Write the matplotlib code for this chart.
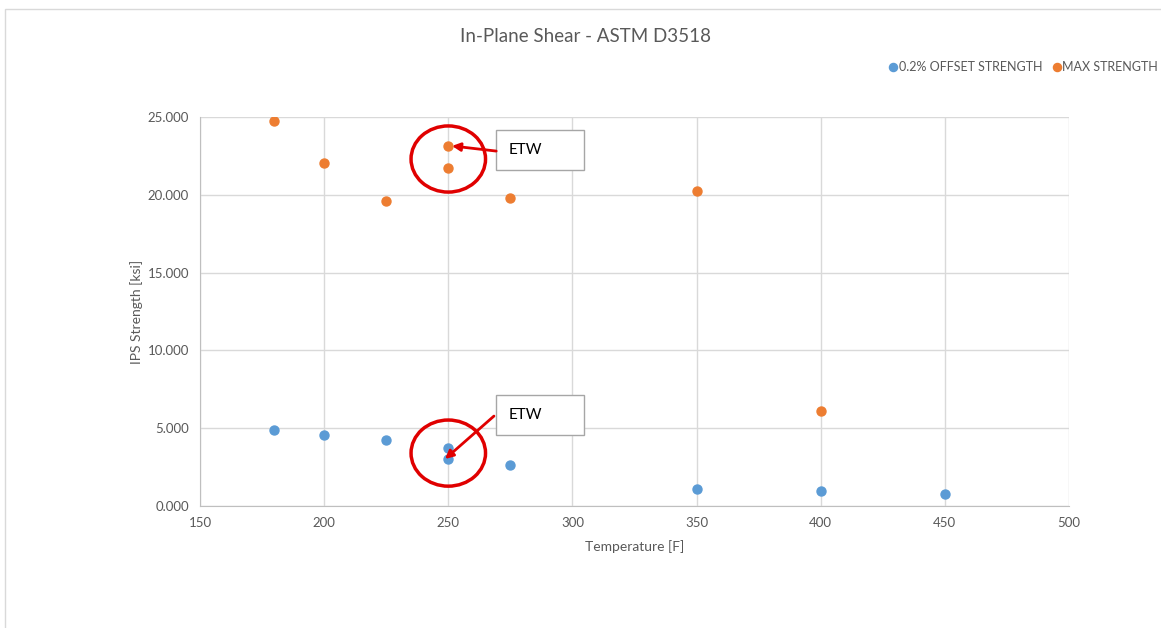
import matplotlib
matplotlib.use("Agg")
import matplotlib.pyplot as plt
from matplotlib.patches import Ellipse, Rectangle

plt.rcParams['font.family'] = ['Lato', 'DejaVu Sans']

# data
temp_offset = [180, 200, 225, 250, 250, 275, 350, 400, 450]
offset_strength = [4.88, 4.56, 4.24, 3.73, 3.02, 2.63, 1.09, 0.96, 0.77]
temp_max = [180, 200, 225, 250, 250, 275, 350, 400]
max_strength = [24.74, 22.04, 19.60, 23.14, 21.72, 19.79, 20.24, 6.10]
x_ticks = [150, 200, 250, 300, 350, 400, 450, 500]
y_ticks = [0, 5, 10, 15, 20, 25]

blue = '#5b9bd5'
orange = '#ed7d31'
gray = '#595959'

fig = plt.figure(figsize=(11.61, 6.28), dpi=100)
# chart frame
fig.patches.append(Rectangle((5 / 1161, -0.1), 1.2, 1 - 9 / 628 + 0.1,
                             transform=fig.transFigure, fill=False,
                             edgecolor='#d9d9d9', linewidth=1))

ax = fig.add_axes([200 / 1161, 1 - 506 / 628, 869 / 1161, 389 / 628])
ax.scatter(temp_offset, offset_strength, s=42, color=blue, zorder=3,
           label='0.2% OFFSET STRENGTH')
ax.scatter(temp_max, max_strength, s=42, color=orange, zorder=3,
           label='MAX STRENGTH')

ax.set_xlim(150, 500)
ax.set_ylim(0, 25)
ax.set_xticks(x_ticks)
ax.set_yticks(y_ticks)
ax.set_yticklabels(['%.3f' % v for v in y_ticks])
ax.grid(True, color='#d9d9d9', linewidth=1)
ax.set_axisbelow(True)
for s in ['top', 'right']:
    ax.spines[s].set_visible(False)
for s in ['left', 'bottom']:
    ax.spines[s].set_color('#bfbfbf')
ax.tick_params(length=0, labelsize=9.5, colors=gray, pad=8)

ax.set_xlabel('Temperature [F]', fontsize=10, color=gray, labelpad=8)
ax.set_ylabel('IPS Strength [ksi]', fontsize=10, color=gray, labelpad=3)
fig.text(585 / 1161, 1 - 36 / 628, 'In-Plane Shear - ASTM D3518',
         ha='center', va='center', fontsize=13.5, color=gray)

ax.legend(loc='upper right', bbox_to_anchor=(1158 / 1161, 1 - 61 / 628),
          bbox_transform=fig.transFigure, ncol=2, frameon=False,
          fontsize=9, labelcolor=gray, handletextpad=0.1, handlelength=0.7,
          columnspacing=0.8, markerscale=0.9, borderpad=0, borderaxespad=0,
          scatteryoffsets=[0.5])

# ETW callouts: (point, circle centre y, box bottom y, box top y, arrow tail)
callouts = [
    (max_strength[3], 22.3, 21.59, 24.16, (269.3, 22.81), (251.5, 23.14)),
    (offset_strength[4], 3.4, 4.56, 7.13, (268.4, 5.78), (248.7, 3.02)),
]
for y_pt, y_c, b0, b1, tail, head in callouts:
    ax.add_patch(Ellipse((250, y_c), 30, 4.25, fill=False,
                         edgecolor='#e00000', linewidth=2.5, zorder=4))
    ax.add_patch(Rectangle((269.3, b0), 35.4, b1 - b0, facecolor='white',
                           edgecolor='#a6a6a6', linewidth=1, zorder=5))
    ax.text(274.2, (b0 + b1) / 2, 'ETW', fontsize=11, color='black',
            va='center', ha='left', zorder=6)
    ax.annotate('', xy=head, xytext=tail,
                arrowprops=dict(arrowstyle='-|>', color='#e00000', lw=2,
                                mutation_scale=12, shrinkA=0, shrinkB=0),
                zorder=6)

fig.savefig('out.png', dpi=100)
